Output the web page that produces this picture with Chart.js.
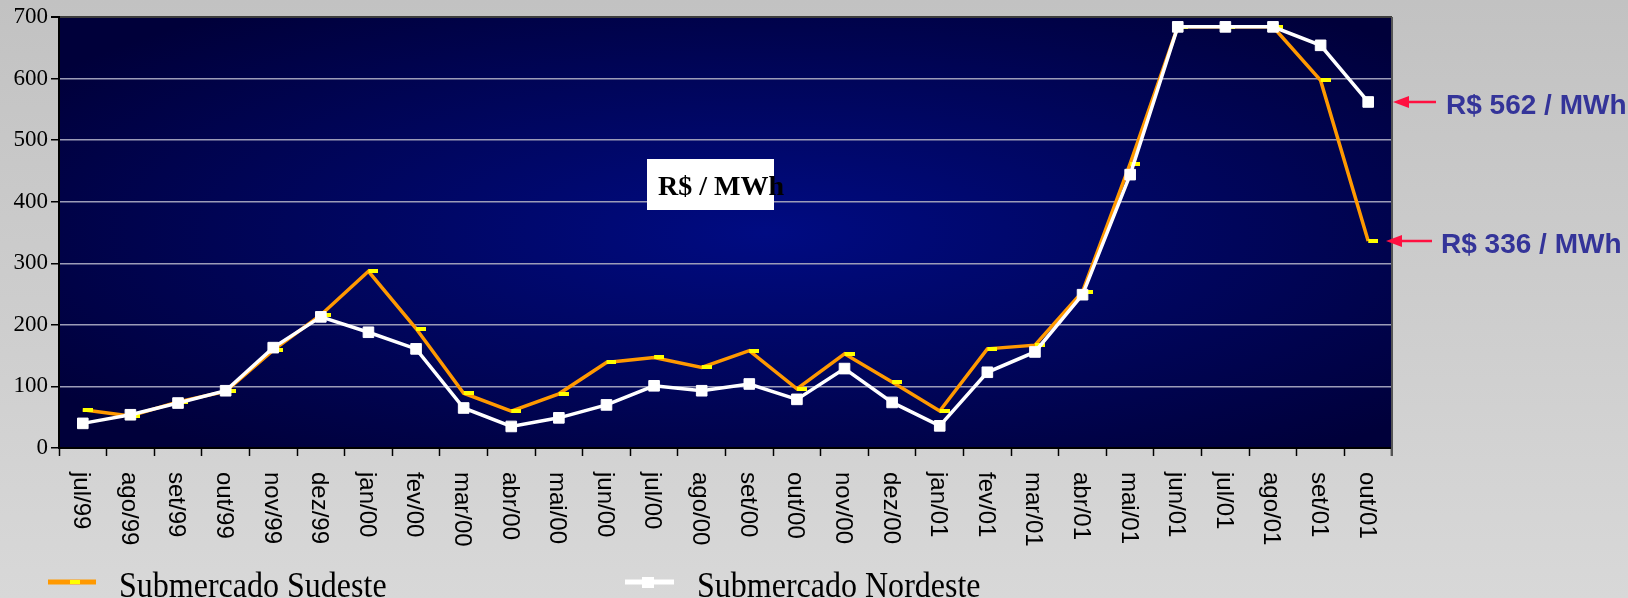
<!DOCTYPE html>
<html lang="pt-BR">
<head>
<meta charset="utf-8">
<title>Preço MAE - Submercados Sudeste e Nordeste</title>
<script src="https://cdn.jsdelivr.net/npm/chart.js@4.4.1/dist/chart.umd.min.js"></script>
<style>
  html, body { margin: 0; padding: 0; background: #cfcfcf; }
  #wrap { width: 1628px; height: 598px; }
</style>
</head>
<body>
<div id="wrap"><canvas id="grafico" width="1628" height="598"></canvas></div>
<script>
// Meses (eixo X)
const meses = ['jul/99', 'ago/99', 'set/99', 'out/99', 'nov/99', 'dez/99', 'jan/00', 'fev/00',
  'mar/00', 'abr/00', 'mai/00', 'jun/00', 'jul/00', 'ago/00', 'set/00', 'out/00', 'nov/00',
  'dez/00', 'jan/01', 'fev/01', 'mar/01', 'abr/01', 'mai/01', 'jun/01', 'jul/01', 'ago/01',
  'set/01', 'out/01'];

// Preço em R$/MWh
const sudeste = [62, 52, 75, 92, 159, 216, 287, 194, 89, 60, 88, 139, 147, 131, 158, 96, 153,
  107, 60, 161, 167, 254, 462, 684, 684, 684, 597, 336];
const nordeste = [40, 54, 73, 93, 163, 213, 188, 161, 65, 35, 49, 70, 101, 93, 104, 79, 129,
  74, 36, 123, 156, 249, 444, 684, 684, 684, 654, 562];

// Escala Y
const yMin = 0;
const yMax = 700;
const yPasso = 100;

const nomeSudeste = 'Submercado Sudeste';
const nomeNordeste = 'Submercado Nordeste';
const unidade = 'R$ / MWh';

// marcador amarelo (traço à direita do ponto) da série Sudeste
function marcaTraco() {
  const c = document.createElement('canvas');
  c.width = 20;
  c.height = 4;
  const g = c.getContext('2d');
  g.fillStyle = '#ffff00';
  g.fillRect(10, 0, 10, 4);
  return c;
}

// fundo cinza + área do gráfico em azul com degradê
const fundo = {
  id: 'fundo',
  beforeDraw(chart) {
    const { ctx, width, height, chartArea: a } = chart;
    ctx.save();
    const lg = ctx.createLinearGradient(0, 0, 0, height);
    lg.addColorStop(0, '#c2c2c2');
    lg.addColorStop(1, '#d8d8d8');
    ctx.fillStyle = lg;
    ctx.fillRect(0, 0, width, height);

    // recorta na área do gráfico
    ctx.beginPath();
    ctx.rect(a.left, a.top, a.right - a.left, a.bottom - a.top);
    ctx.clip();
    ctx.translate((a.left + a.right) / 2 + 40, (a.top + a.bottom) / 2);
    ctx.scale((a.right - a.left) / 2, (a.bottom - a.top) / 2);
    const rg = ctx.createRadialGradient(0, 0, 0, 0, 0, 1.3);
    rg.addColorStop(0, '#000b82');
    rg.addColorStop(1, '#00003a');
    ctx.fillStyle = rg;
    ctx.fillRect(-1.2, -1, 2.4, 2);
    ctx.restore();
  }
};

// rótulos do eixo X, legenda, caixa de unidade e setas
const extras = {
  id: 'extras',
  afterDraw(chart) {
    const { ctx, chartArea: a } = chart;
    const xs = chart.scales.x;
    const ys = chart.scales.y;
    ctx.save();

    // borda direita
    ctx.strokeStyle = '#555';
    ctx.lineWidth = 2;
    ctx.beginPath();
    ctx.moveTo(a.right, a.top);
    ctx.lineTo(a.right, a.bottom + 8);
    ctx.stroke();

    // meses girados (lendo de cima para baixo)
    ctx.fillStyle = '#000';
    ctx.font = '24px "Liberation Sans", Arial, sans-serif';
    ctx.textAlign = 'left';
    ctx.textBaseline = 'middle';
    meses.forEach((m, i) => {
      ctx.save();
      ctx.translate(xs.getPixelForValue(i) - 2, a.bottom + 24);
      ctx.rotate(Math.PI / 2);
      ctx.fillText(m, 0, 0);
      ctx.restore();
    });

    // legenda
    ctx.lineWidth = 5;
    ctx.strokeStyle = '#ff9900';
    ctx.beginPath();
    ctx.moveTo(48, 582);
    ctx.lineTo(96, 582);
    ctx.stroke();
    ctx.fillStyle = '#ffff00';
    ctx.fillRect(70, 580, 10, 4);

    ctx.strokeStyle = '#ffffff';
    ctx.beginPath();
    ctx.moveTo(625, 582);
    ctx.lineTo(674, 582);
    ctx.stroke();
    ctx.fillStyle = '#ffffff';
    ctx.fillRect(642, 577, 12, 11);

    ctx.fillStyle = '#000';
    ctx.font = '33px "Liberation Serif", "Times New Roman", serif';
    ctx.textBaseline = 'alphabetic';
    [[nomeSudeste, 119], [nomeNordeste, 697]].forEach(([t, x]) => {
      ctx.save();
      ctx.translate(x, 597);
      ctx.scale(0.97, 1.1);
      ctx.fillText(t, 0, 0);
      ctx.restore();
    });

    // caixa "R$ / MWh"
    ctx.fillStyle = '#ffffff';
    ctx.fillRect(647, 159, 127, 51);
    ctx.fillStyle = '#000';
    ctx.font = 'bold 28px "Liberation Serif", "Times New Roman", serif';
    ctx.fillText(unidade, 658, 195);

    // setas com o último valor de cada série
    const ultimos = [
      { v: nordeste[nordeste.length - 1], tip: a.right + 1, tail: a.right + 44, tx: a.right + 54 },
      { v: sudeste[sudeste.length - 1], tip: a.right - 6, tail: a.right + 40, tx: a.right + 49 }
    ];
    ultimos.forEach(u => {
      const y = ys.getPixelForValue(u.v);
      ctx.strokeStyle = '#ff1040';
      ctx.fillStyle = '#ff1040';
      ctx.lineWidth = 2.5;
      ctx.beginPath();
      ctx.moveTo(u.tip + 10, y);
      ctx.lineTo(u.tail, y);
      ctx.stroke();
      ctx.beginPath();
      ctx.moveTo(u.tip, y);
      ctx.lineTo(u.tip + 16, y - 6);
      ctx.lineTo(u.tip + 16, y + 6);
      ctx.closePath();
      ctx.fill();

      ctx.fillStyle = '#343499';
      ctx.font = 'bold 28px "Liberation Sans", Arial, sans-serif';
      ctx.fillText('R$ ' + u.v + ' / MWh', u.tx, y + 12);
    });

    ctx.restore();
  }
};

document.addEventListener('DOMContentLoaded', function () {
  const ctx = document.getElementById('grafico').getContext('2d');
  new Chart(ctx, {
    type: 'line',
    data: {
      labels: meses,
      datasets: [
        {
          label: nomeSudeste,
          data: sudeste,
          borderColor: '#ff9900',
          backgroundColor: '#ffff00',
          borderWidth: 3.5,
          pointStyle: marcaTraco(),
          pointRadius: 5,
          tension: 0,
          order: 1
        },
        {
          label: nomeNordeste,
          data: nordeste,
          borderColor: '#ffffff',
          backgroundColor: '#ffffff',
          borderWidth: 3.5,
          pointStyle: 'rect',
          pointRadius: 7.5,
          pointBorderWidth: 1,
          tension: 0,
          order: 0
        }
      ]
    },
    options: {
      responsive: false,
      animation: false,
      devicePixelRatio: 1,
      layout: { padding: { top: 17, right: 236, bottom: 0, left: 0 } },
      plugins: {
        legend: { display: false },
        tooltip: { enabled: false }
      },
      scales: {
        x: {
          offset: true,
          grid: { offset: true, drawOnChartArea: false, tickLength: 8, tickColor: '#000', tickWidth: 1.5 },
          border: { color: '#000', width: 2 },
          ticks: { display: false },
          afterFit: s => { s.height = 150; }
        },
        y: {
          min: yMin,
          max: yMax,
          ticks: {
            stepSize: yPasso,
            color: '#000',
            padding: 3,
            font: { family: '"Liberation Serif", "Times New Roman", serif', size: 23 }
          },
          grid: {
            color: c => (c.tick && c.tick.value === yMax) ? '#3c3c3c' : '#9c9cb8',
            lineWidth: c => (c.tick && c.tick.value === yMax) ? 2 : 1.5,
            tickColor: '#000',
            tickLength: 8
          },
          border: { color: '#000', width: 2 },
          afterFit: s => { s.width = 59; }
        }
      }
    },
    plugins: [fundo, extras]
  });
});
</script>
</body>
</html>
